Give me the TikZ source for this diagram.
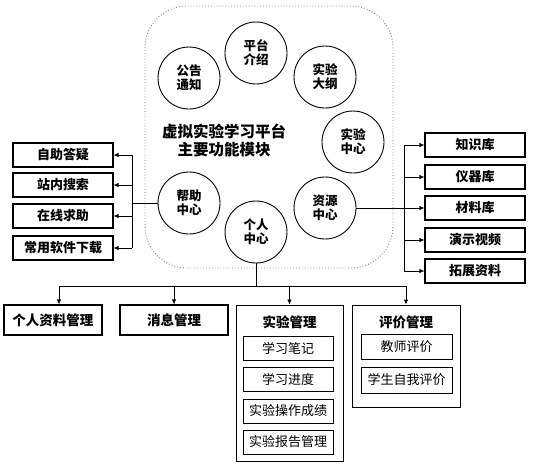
\documentclass[tikz,border=0pt]{standalone}
\usepackage{fontspec}
\setmainfont{Noto Sans CJK SC}
\usetikzlibrary{arrows.meta}
\newcommand{\pSize}[1]{\fontsize{#1}{#1}\selectfont}

\begin{document}
\begin{tikzpicture}[x=1pt,y=-1pt,
  every node/.style={font=\pSize{13}},
  mod/.style={draw,circle,line width=0.9pt,minimum size=62pt,inner sep=0pt,align=center,font=\fontsize{12.5}{14}\selectfont\bfseries},
  item/.style={draw,line width=1.1pt,minimum width=100pt,minimum height=24pt,inner sep=0pt,font=\pSize{13}\bfseries},
  head/.style={draw,line width=1.1pt,minimum height=30pt,inner sep=0pt,font=\pSize{13.5}\bfseries},
  grp/.style={draw,line width=1pt,inner sep=0pt},
  sub/.style={draw,line width=1pt,minimum width=90pt,minimum height=24pt,inner sep=0pt,font=\pSize{13}},
  arr/.style={-{Latex[length=5pt,width=4.5pt]},line width=0.8pt},
  link/.style={line width=0.8pt}]
\useasboundingbox (0,0) rectangle (533,467);
\node[draw=gray,dotted,line width=0.9pt,rounded corners=42pt,minimum width=248pt,minimum height=262pt] (frame) at (269,137) {};
\node[mod] (intro) at (256,53) {平台\\介绍};
\node[mod] (notice) at (189,78) {公告\\通知};
\node[mod] (outline) at (325,77) {实验\\大纲};
\node[mod] (expt) at (353,142) {实验\\中心};
\node[mod] (res) at (325,208) {资源\\中心};
\node[mod] (personal) at (256,232) {个人\\中心};
\node[mod] (help) at (189,203) {帮助\\中心};
\node[align=center,font=\fontsize{15.5}{18}\selectfont\bfseries] (title) at (224,140) {虚拟实验学习平台\\主要功能模块};
\node[item] (qa) at (63,155) {自助答疑};
\node[item] (search) at (63,185) {站内搜索};
\node[item] (online) at (63,216) {在线求助};
\node[item] (soft) at (63,248) {常用软件下载};
\coordinate (hj) at (132,203);
\draw[link] (help.west) -- (hj);
\draw[link] (hj |- qa) -- (hj |- soft);
\foreach \b in {qa,search,online,soft} \draw[arr] (hj |- \b) -- (\b.east);
\node[item] (know) at (475,145) {知识库};
\node[item] (instr) at (475,177) {仪器库};
\node[item] (mat) at (475,208) {材料库};
\node[item] (demo) at (475,240) {演示视频};
\node[item] (ext) at (475,271) {拓展资料};
\coordinate (rj) at (404,208);
\draw[arr] (res.east) -- (mat.west);
\draw[link] (rj |- know) -- (rj |- ext);
\foreach \b in {know,instr,demo,ext} \draw[arr] (rj |- \b) -- (\b.west);
\node[head,minimum width=98pt] (prof) at (53,320) {个人资料管理};
\node[head,minimum width=108pt] (msg) at (174,320) {消息管理};
\node[grp,minimum width=107pt,minimum height=156pt] (exptm) at (289.5,383) {};
\node[grp,minimum width=108pt,minimum height=102pt] (eval) at (406,356) {};
\node[font=\pSize{13.5}\bfseries] (exptmt) at (289.5,322) {实验管理};
\node[font=\pSize{13.5}\bfseries] (evalt) at (406,322) {评价管理};
\node[sub] (note) at (288,348) {学习笔记};
\node[sub] (prog) at (288,379) {学习进度};
\node[sub] (score) at (288,411) {实验操作成绩};
\node[sub] (report) at (288,442) {实验报告管理};
\node[sub,minimum width=91pt,minimum height=25pt] (teach) at (406.5,347) {教师评价};
\node[sub,minimum width=91pt,minimum height=26pt] (self) at (406.5,380) {学生自我评价};
\coordinate (bj) at (254,286);
\draw[link] (personal.south) -- (personal.south |- bj);
\draw[link] ([xshift=6pt]prof.north |- bj) -- (eval.north |- bj);
\draw[arr] ([xshift=6pt]prof.north |- bj) -- ([xshift=6pt]prof.north);
\draw[arr] (msg.north |- bj) -- (msg.north);
\draw[arr] (exptm.north |- bj) -- (exptm.north);
\draw[arr] (eval.north |- bj) -- (eval.north);
\end{tikzpicture}
\end{document}
